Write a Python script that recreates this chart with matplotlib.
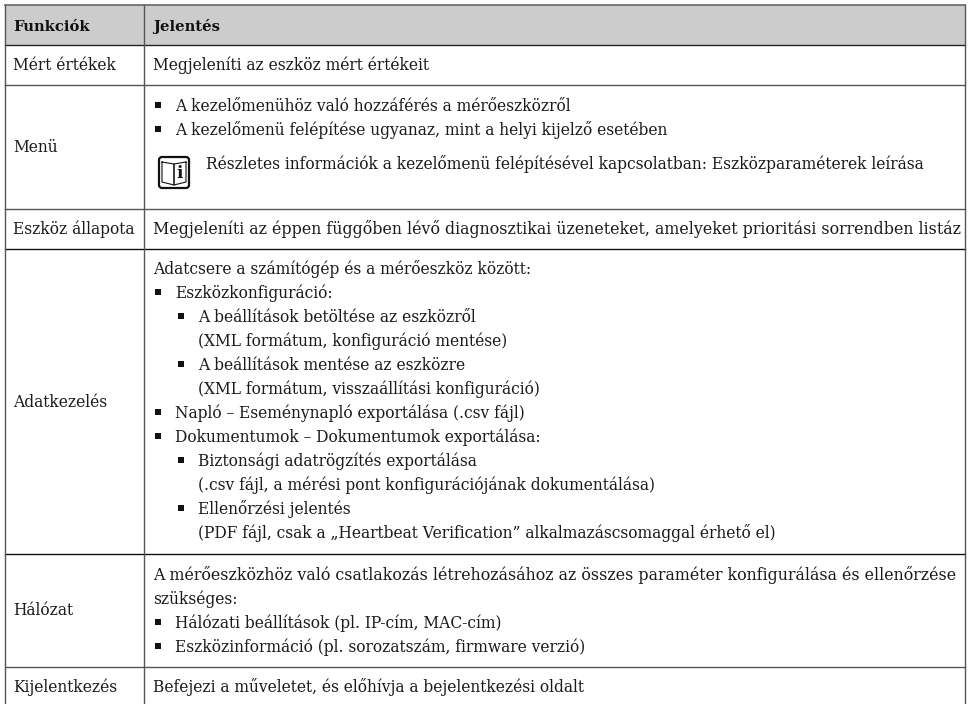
import matplotlib
matplotlib.use('Agg')
from matplotlib import pyplot as plt
from matplotlib.patches import Rectangle, FancyBboxPatch

plt.rcParams['font.family'] = ['DejaVu Serif']

# table content
header = ['Funkciók', 'Jelentés']
functions = ['Mért értékek', 'Menü', 'Eszköz állapota', 'Adatkezelés', 'Hálózat', 'Kijelentkezés']

merteretekek_lines = ['Megjeleníti az eszköz mért értékeit']
menu_lines = ['A kezelőmenühöz való hozzáférés a mérőeszközről',
              'A kezelőmenü felépítése ugyanaz, mint a helyi kijelző esetében']
menu_note = 'Részletes információk a kezelőmenü felépítésével kapcsolatban: Eszközparaméterek leírása'
allapot_lines = ['Megjeleníti az éppen függőben lévő diagnosztikai üzeneteket, amelyeket prioritási sorrendben listáz']
adat_lines = ['Adatcsere a számítógép és a mérőeszköz között:',
              'Eszközkonfiguráció:',
              'A beállítások betöltése az eszközről',
              '(XML formátum, konfiguráció mentése)',
              'A beállítások mentése az eszközre',
              '(XML formátum, visszaállítási konfiguráció)',
              'Napló – Eseménynapló exportálása (.csv fájl)',
              'Dokumentumok – Dokumentumok exportálása:',
              'Biztonsági adatrögzítés exportálása',
              '(.csv fájl, a mérési pont konfigurációjának dokumentálása)',
              'Ellenőrzési jelentés',
              '(PDF fájl, csak a „Heartbeat Verification” alkalmazáscsomaggal érhető el)']
# 0 plain, 1 bullet, 2 sub bullet, 3 sub bullet continuation
adat_kinds = [0, 1, 2, 3, 2, 3, 1, 1, 2, 3, 2, 3]
halozat_lines = ['A mérőeszközhöz való csatlakozás létrehozásához az összes paraméter konfigurálása és ellenőrzése',
                 'szükséges:',
                 'Hálózati beállítások (pl. IP-cím, MAC-cím)',
                 'Eszközinformáció (pl. sorozatszám, firmware verzió)']
halozat_kinds = [0, 0, 1, 1]
kijelent_lines = ['Befejezi a műveletet, és előhívja a bejelentkezési oldalt']

# page geometry in pixels
W, H = 968, 704
LEFT, MID, RIGHT = 5, 144, 965
TOP, HEAD = 5, 45
row_edges = [85, 209, 249, 554, 667]
left_base = [70, 152, 234, 407, 615, 692]
FS = 11.2
FS_LONG = 11.45
FS_HEAD = 10.6
LINE_COL = '#555555'
TXT = '#1a1a1a'

fig = plt.figure(figsize=(W / 100, H / 100), dpi=100)
ax = fig.add_axes([0, 0, 1, 1])
ax.set_xlim(0, W)
ax.set_ylim(H, 0)
ax.axis('off')

ax.add_patch(Rectangle((LEFT, TOP), RIGHT - LEFT, HEAD - TOP, fc='#cccccc', ec='none'))
ax.plot([LEFT, RIGHT], [TOP, TOP], color='#666666', lw=1.2)
ax.plot([LEFT, RIGHT], [HEAD, HEAD], color='#222222', lw=1.0)
for y in row_edges:
    col = '#111111' if y == 554 or y == 249 else LINE_COL
    ax.plot([LEFT, RIGHT], [y, y], color=col, lw=1.0)
for x in (LEFT, MID, RIGHT):
    ax.plot([x, x], [TOP, H], color=LINE_COL, lw=1.0)

ax.text(13, 31, header[0], fontsize=FS_HEAD, fontweight='bold', va='baseline', color='#111111')
ax.text(153, 31, header[1], fontsize=FS_HEAD, fontweight='bold', va='baseline', color='#111111')

for name, y in zip(functions, left_base):
    ax.text(13, y, name, fontsize=FS, va='baseline', color=TXT)


def put_line(text, kind, y, fs=FS):
    text_x = [153, 175, 198, 198][kind]
    if kind in (1, 2):
        bx = 155 if kind == 1 else 178
        ax.add_patch(Rectangle((bx, y - 9), 6, 6, fc='#111111', ec='none'))
    ax.text(text_x, y, text, fontsize=fs, va='baseline', color=TXT)


def put_block(lines, kinds, y0, pitch=24):
    for i, (text, kind) in enumerate(zip(lines, kinds)):
        # the two full width lines run a little wider in the reference
        fs = FS_LONG if len(text) > 90 else FS
        put_line(text, kind, y0 + i * pitch, fs)


put_block(merteretekek_lines, [0], 70)
put_block(menu_lines, [1, 1], 111)
ax.text(206, 169, menu_note, fontsize=FS, va='baseline', color=TXT)
put_block(allapot_lines, [0], 234)
put_block(adat_lines, adat_kinds, 274)
put_block(halozat_lines, halozat_kinds, 580)
put_block(kijelent_lines, [0], 692)

# book icon for the note
ax.add_patch(FancyBboxPatch((159, 157), 30, 31, boxstyle='round,pad=0,rounding_size=3',
                            fc='white', ec='#111111', lw=1.6))
ax.plot([162, 174, 174, 162, 162], [162, 164, 185, 182, 162], color='#111111', lw=0.8)
ax.plot([186, 174, 174, 186, 186], [162, 164, 185, 182, 162], color='#111111', lw=0.8)
ax.text(180, 174, 'i', fontsize=12, fontweight='bold', ha='center', va='center', color='#111111')

fig.savefig('out.png', dpi=100)
